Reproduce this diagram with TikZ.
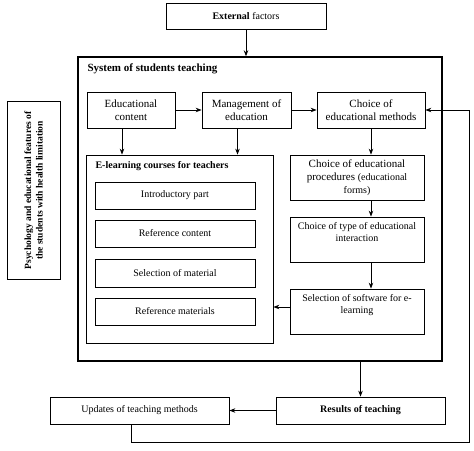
\documentclass[tikz,border=0pt]{standalone}
\usepackage{fontspec}
\setmainfont{Liberation Serif}
\usetikzlibrary{arrows.meta,positioning}
\newcommand{\bigtxt}{\fontsize{11}{13}\selectfont}
\newcommand{\smltxt}{\fontsize{10}{12}\selectfont}

\begin{document}
\begin{tikzpicture}[x=1pt, y=-1pt,
  box/.style = {draw, line width=0.7pt, align=center, inner sep=2pt},
  arr/.style = {line width=0.9pt, -{Stealth[length=6pt,width=4.5pt]}}]
  \useasboundingbox (0,0) rectangle (474,450);

  \node[box, line width=0.9pt, minimum width=160, minimum height=26, font=\smltxt] at (246,16) (ext) {\textbf{External} factors};

  \node[draw, line width=1.4pt, minimum width=364, minimum height=304] at (260,209) (sys) {};
  \node[anchor=west, font=\bigtxt\bfseries] at (84,69) (systitle) {System of students teaching};

  \node[box, minimum width=88, minimum height=36, font=\bigtxt] at (131,110) (educ) {Educational\\content};
  \node[box, minimum width=89, minimum height=36, font=\bigtxt] at (246.5,110) (mgmt) {Management of\\education};
  \node[box, minimum width=108, minimum height=36, font=\bigtxt] at (371,110) (meth) {Choice of\\educational methods};

  \draw[arr] (ext) -- (ext |- sys.north);
  \draw[arr] (educ) -- (mgmt);
  \draw[arr] (mgmt) -- (meth);

  \node[box, minimum width=187, minimum height=188] at (179.5,249) (elearn) {};
  \node[anchor=west, font=\smltxt\bfseries] at (92,166) (eltitle) {E-learning courses for teachers};

  \node[box, minimum width=160, minimum height=27, font=\smltxt] at (175,195.5) (intro) {Introductory part};
  \node[box, minimum width=160, minimum height=27, font=\smltxt] at (175,233.5) (refc) {Reference content};
  \node[box, minimum width=160, minimum height=28, font=\smltxt] at (175,273) (selm) {Selection of material};
  \node[box, minimum width=160, minimum height=27, font=\smltxt] at (175,311.5) (refm) {Reference materials};

  \draw[arr] ([xshift=-9pt]educ.south) -- ([xshift=-9pt]educ.south |- elearn.north);
  \draw[arr] ([xshift=-9pt]mgmt.south) -- ([xshift=-9pt]mgmt.south |- elearn.north);

  \node[box, minimum width=134, minimum height=45, font=\bigtxt] at (357,177.5) (proc) {Choice of educational\\procedures {\smltxt(educational}\\{\smltxt forms)}};
  \node[box, minimum width=134, minimum height=45] at (357,239.5) (inter) {};
  \node[below=2pt of inter.north, align=center, font=\smltxt] (intertxt) {Choice of type of educational\\interaction};
  \node[box, minimum width=134, minimum height=45] at (357,311.5) (soft) {};
  \node[below=2pt of soft.north, align=center, font=\smltxt] (softtxt) {Selection of software for e-\\learning};

  \draw[arr] (meth.south) -- (meth.south |- proc.north);
  \draw[arr] (meth.south |- proc.south) -- (meth.south |- inter.north);
  \draw[arr] (meth.south |- inter.south) -- (meth.south |- soft.north);
  \draw[arr] ([yshift=4.5pt]soft.west) -- ([yshift=4.5pt]soft.west -| elearn.east);

  \node[box, rotate=90, minimum width=178, minimum height=53, font=\fontsize{9.5}{11.5}\selectfont\bfseries] at (33.5,190.5) (psy) {Psychology and educational features of\\the students with health limitation};

  \node[box, minimum width=169, minimum height=27, font=\smltxt] at (360.5,410.5) (res) {\textbf{Results of teaching}};
  \node[box, minimum width=179, minimum height=27, font=\smltxt] at (139.5,410.5) (upd) {Updates of teaching methods};

  \draw[arr] (res.north |- sys.south) -- (res.north);
  \draw[arr] (res) -- (upd);

  \coordinate (fb) at (469,442);
  \draw[arr] ([xshift=-8.5pt]upd.south) |- (fb) |- (meth.east);
\end{tikzpicture}
\end{document}
